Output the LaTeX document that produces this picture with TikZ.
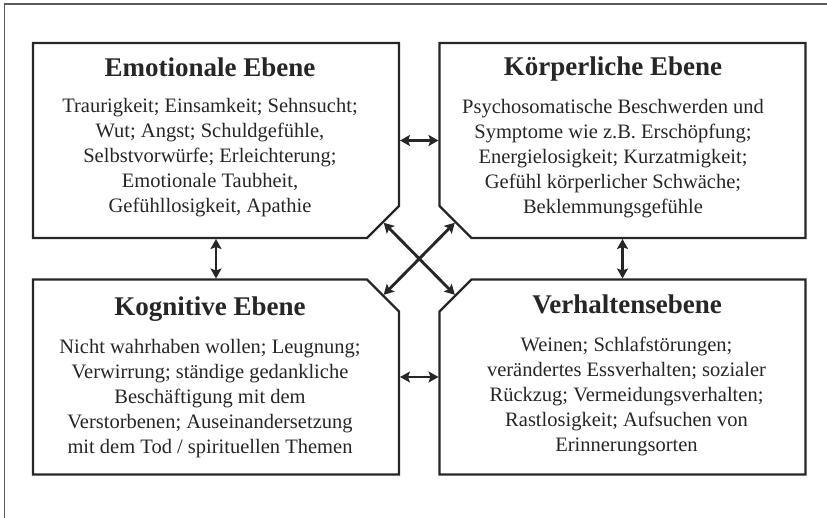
\documentclass[tikz,border=0pt]{standalone}
\usepackage{fontspec}
\setmainfont{Liberation Serif}
\usetikzlibrary{arrows.meta}
\definecolor{ink}{HTML}{262626}
\definecolor{rahmen}{HTML}{5A5A5A}
\tikzset{
  ebene/.style={rectangle,minimum width=366pt,minimum height=195pt,inner sep=0pt,outer sep=0pt},
  rand/.style={draw=ink,line width=2.2pt,line join=miter},
  titel/.style={anchor=base,inner sep=0pt,font=\bfseries\fontsize{27}{30}\selectfont,text=ink},
  inhalt/.style={align=center,inner sep=0pt,font=\fontsize{20.5}{25}\selectfont,text=ink},
  pfeil/.style={{Stealth[length=10pt,width=11pt,inset=2pt]}-{Stealth[length=10pt,width=11pt,inset=2pt]},line width=2.9pt,draw=ink,shorten <=1pt,shorten >=1pt}
}
\begin{document}
\begin{tikzpicture}[x=1pt,y=-1pt]
\useasboundingbox (0,0) rectangle (827,517);
\draw[rahmen,line width=1.2pt] (4.5,520) -- (4.5,4) -- (830,4);

\node[ebene] (emo) at (216,140.5) {};
\node[ebene] (koe) at (622.5,140.5) {};
\node[ebene] (kog) at (216,377) {};
\node[ebene] (ver) at (622.5,377) {};

\draw[rand] (emo.north west) -- (emo.north east) -- ([yshift=32pt]emo.south east) -- ([xshift=-32pt]emo.south east) -- (emo.south west) -- cycle;
\draw[rand] (koe.north west) -- (koe.north east) -- (koe.south east) -- ([xshift=32pt]koe.south west) -- ([yshift=32pt]koe.south west) -- cycle;
\draw[rand] (kog.north west) -- ([xshift=-32pt]kog.north east) -- ([yshift=-32pt]kog.north east) -- (kog.south east) -- (kog.south west) -- cycle;
\draw[rand] ([xshift=32pt]ver.north west) -- (ver.north east) -- (ver.south east) -- (ver.south west) -- ([yshift=-32pt]ver.north west) -- cycle;

\node[titel] (emot) at (210,76) {Emotionale Ebene};
\node[inhalt] (emoi) at (210,158) {Traurigkeit; Einsamkeit; Sehnsucht;\\Wut; Angst; Schuldgefühle,\\Selbstvorwürfe; Erleichterung;\\Emotionale Taubheit,\\Gefühllosigkeit, Apathie};
\node[titel] (koet) at (613,75) {Körperliche Ebene};
\node[inhalt] (koei) at (613,159) {Psychosomatische Beschwerden und\\Symptome wie z.B. Erschöpfung;\\Energielosigkeit; Kurzatmigkeit;\\Gefühl körperlicher Schwäche;\\Beklemmungsgefühle};
\node[titel] (kogt) at (210,315) {Kognitive Ebene};
\node[inhalt] (kogi) at (210,399) {Nicht wahrhaben wollen; Leugnung;\\Verwirrung; ständige gedankliche\\Beschäftigung mit dem\\Verstorbenen; Auseinandersetzung\\mit dem Tod / spirituellen Themen};
\node[titel] (vert) at (627,313) {Verhaltensebene};
\node[inhalt] (veri) at (626.5,396) {Weinen; Schlafstörungen;\\verändertes Essverhalten; sozialer\\Rückzug; Vermeidungsverhalten;\\Rastlosigkeit; Aufsuchen von\\Erinnerungsorten};

\coordinate (emoe) at ([shift={(-16pt,16pt)}]emo.south east);
\coordinate (koee) at ([shift={(16pt,16pt)}]koe.south west);
\coordinate (koge) at ([shift={(-16pt,-16pt)}]kog.north east);
\coordinate (vere) at ([shift={(16pt,-16pt)}]ver.north west);

\draw[pfeil] (emo.east) -- (koe.west);
\draw[pfeil] (kog.east) -- (ver.west);
\draw[pfeil] (emo.south) -- (kog.north);
\draw[pfeil] (koe.south) -- (ver.north);
\draw[pfeil] (emoe) -- (vere);
\draw[pfeil] (koee) -- (koge);
\end{tikzpicture}
\end{document}
